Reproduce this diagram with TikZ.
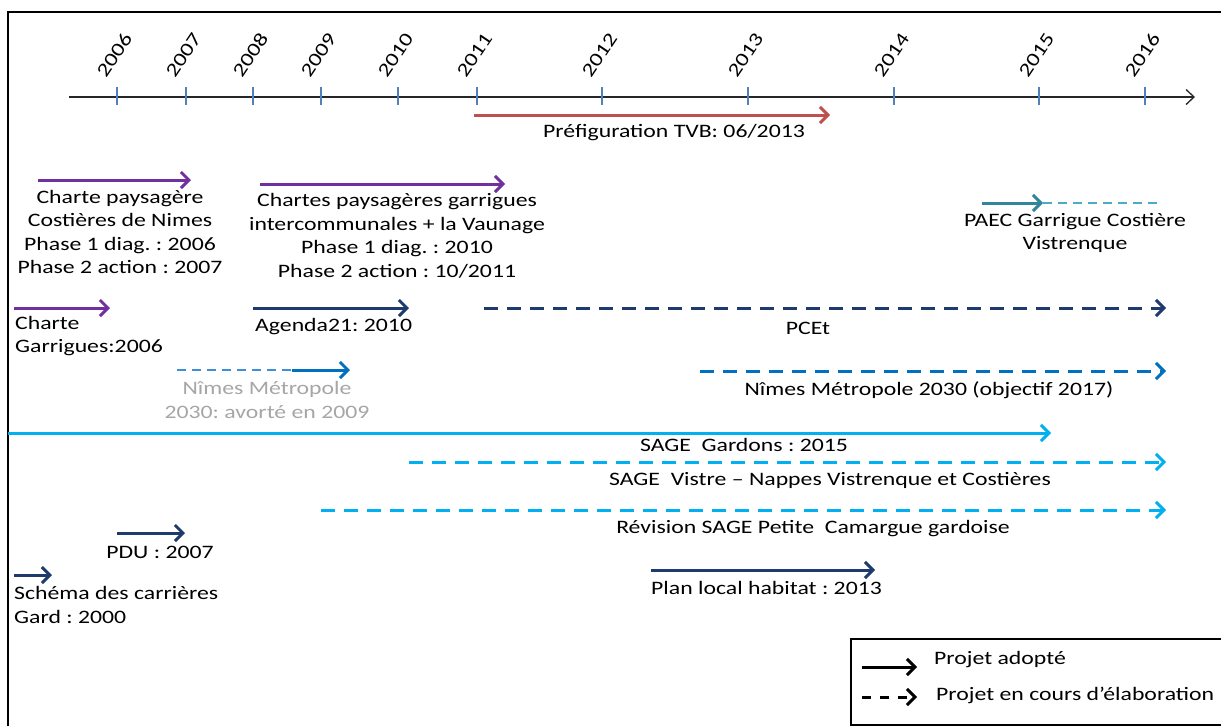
\documentclass[tikz,border=0pt]{standalone}
\usepackage{fontspec}
\setmainfont{Carlito}[FakeStretch=1.25]
\usetikzlibrary{arrows.meta}
\definecolor{charteviolet}{HTML}{7030A0}
\definecolor{marine}{HTML}{1F3A6E}
\definecolor{tvbrouge}{HTML}{C0504D}
\definecolor{paecbleu}{HTML}{31859C}
\definecolor{paecclair}{HTML}{4BACC6}
\definecolor{metrobleu}{HTML}{0070C0}
\definecolor{metroclair}{HTML}{3D8FD6}
\definecolor{sagebleu}{HTML}{00B0F0}
\definecolor{tickbleu}{HTML}{4F81BD}
\definecolor{gristexte}{HTML}{A6A6A6}
\tikzset{every picture/.style={ampersand replacement=\&}}
\frenchspacing

\begin{document}
\begin{tikzpicture}[x=1pt,y=-1pt,line cap=butt,line join=miter,
  txt/.style={font=\fontsize{19}{23.5}\selectfont,inner sep=0pt,align=center},
  adopte/.style={line width=3pt,-{Straight Barb[length=8pt,width=16pt]}},
  encours/.style={line width=3pt,dash pattern=on 14pt off 9pt,-{Straight Barb[length=8pt,width=16pt]}},
  fin/.style={line width=2pt,dash pattern=on 9pt off 6pt}]
\useasboundingbox (0,0) rectangle (1221,726);
\draw[line width=2pt] (8,726) -- (8,12) -- (1221,12);
% axe des annees
\coordinate (axeA) at (69,97);
\coordinate (axeB) at (1195,97);
\draw[line width=1.3pt,black!85,-{Straight Barb[length=8pt,width=15pt]}] (axeA) -- (axeB);
\foreach \an/\px in {2006/117,2007/186,2008/253,2009/321,2010/398,2011/477,2012/602,2013/748,2014/894,2015/1039,2016/1145}{
  \draw[tickbleu,line width=1.5pt] (\px,87) -- (\px,105);
  \node[txt,rotate=56,anchor=base west] (an\an) at (\px-11,79) {\an};
}
% TVB
\coordinate (tvbA) at (474,115);
\coordinate (tvbB) at (830,115);
\draw[adopte,tvbrouge] (tvbA) -- (tvbB);
\node[txt] (tvb) at (674,133) {Préfiguration TVB: 06/2013};
% chartes paysageres
\coordinate (cpnA) at (38,180);
\coordinate (cpnB) at (191,180);
\draw[adopte,charteviolet] (cpnA) -- (cpnB);
\node[txt] (cpn) at (120,232) {Charte paysagère\\Costières de Nimes\\Phase 1 diag. : 2006\\Phase 2 action : 2007};
\coordinate (cpgA) at (260,184);
\coordinate (cpgB) at (505,184);
\draw[adopte,charteviolet] (cpgA) -- (cpgB);
\node[txt] (cpg) at (397,236) {Chartes paysagères garrigues\\intercommunales + la Vaunage\\Phase 1 diag. : 2010\\Phase 2 action : 10/2011};
% PAEC
\coordinate (paecA) at (982,203);
\coordinate (paecB) at (1043,203);
\coordinate (paecC) at (1162,203);
\draw[fin,paecclair] (paecB) -- (paecC);
\draw[adopte,paecbleu] (paecA) -- (paecB);
\node[txt] (paec) at (1075,233) {PAEC Garrigue Costière\\Vistrenque};
% charte garrigues, agenda21, PCEt
\coordinate (cgA) at (14,308);
\coordinate (cgB) at (110,308);
\draw[adopte,charteviolet] (cgA) -- (cgB);
\node[txt,align=left,anchor=west] (cg) at (15,336) {Charte\\Garrigues:2006};
\coordinate (agA) at (253,308);
\coordinate (agB) at (409,308);
\draw[adopte,marine] (agA) -- (agB);
\node[txt,anchor=west] (ag) at (255,327) {Agenda21: 2010};
\coordinate (pcetA) at (484,308);
\coordinate (pcetB) at (1166,308);
\draw[encours,marine] (pcetA) -- (pcetB);
\node[txt] (pcet) at (808,328) {PCEt};
% Nimes Metropole
\coordinate (nmaA) at (177,370);
\coordinate (nmaB) at (292,370);
\coordinate (nmaC) at (350,370);
\draw[fin,metroclair] (nmaA) -- (nmaB);
\draw[adopte,metrobleu] (nmaB) -- (nmaC);
\node[txt,gristexte] (nma) at (267,400) {Nîmes Métropole\\2030: avorté en 2009};
\coordinate (nmbA) at (700,371);
\coordinate (nmbB) at (1166,371);
\draw[encours,metrobleu] (nmbA) -- (nmbB);
\node[txt] (nmb) at (929,390) {Nîmes Métropole 2030 (objectif 2017)};
% SAGE
\coordinate (sgA) at (8,433);
\coordinate (sgB) at (1051,433);
\draw[adopte,sagebleu] (sgA) -- (sgB);
\node[txt] (sg) at (744,445) {SAGE\ \ Gardons : 2015};
\coordinate (svA) at (409,462);
\coordinate (svB) at (1166,462);
\draw[encours,sagebleu] (svA) -- (svB);
\node[txt] (sv) at (830,480) {SAGE\ \ Vistre – Nappes Vistrenque et Costières};
\coordinate (srA) at (321,510);
\coordinate (srB) at (1166,510);
\draw[encours,sagebleu] (srA) -- (srB);
\node[txt] (sr) at (813,529) {Révision SAGE Petite\ \ Camargue gardoise};
% PDU, carrieres, PLH
\coordinate (pduA) at (117,533);
\coordinate (pduB) at (185,533);
\draw[adopte,marine] (pduA) -- (pduB);
\node[txt] (pdu) at (160,552) {PDU : 2007};
\coordinate (carA) at (14,575);
\coordinate (carB) at (52,575);
\draw[adopte,marine] (carA) -- (carB);
\node[txt,align=left,anchor=west] (car) at (14,605) {Schéma des carrières\\Gard : 2000};
\coordinate (plhA) at (651,570);
\coordinate (plhB) at (875,570);
\draw[adopte,marine] (plhA) -- (plhB);
\node[txt,anchor=west] (plh) at (651,588) {Plan local habitat : 2013};
% legende
\draw[line width=1.3pt] (1221,639) -- (851,639) -- (851,725) -- (1221,725);
\coordinate (lgA) at (862,667);
\coordinate (lgB) at (917,667);
\coordinate (lgC) at (862,697);
\coordinate (lgD) at (917,697);
\draw[adopte,black] (lgA) -- (lgB);
\draw[line width=3pt,dash pattern=on 9pt off 9pt,-{Straight Barb[length=8pt,width=16pt]}] (lgC) -- (lgD);
\node[txt,anchor=west] (lgad) at (934,660) {Projet adopté};
\node[txt,anchor=west] (lgec) at (936,695) {Projet en cours d’élaboration};
\end{tikzpicture}
\end{document}
